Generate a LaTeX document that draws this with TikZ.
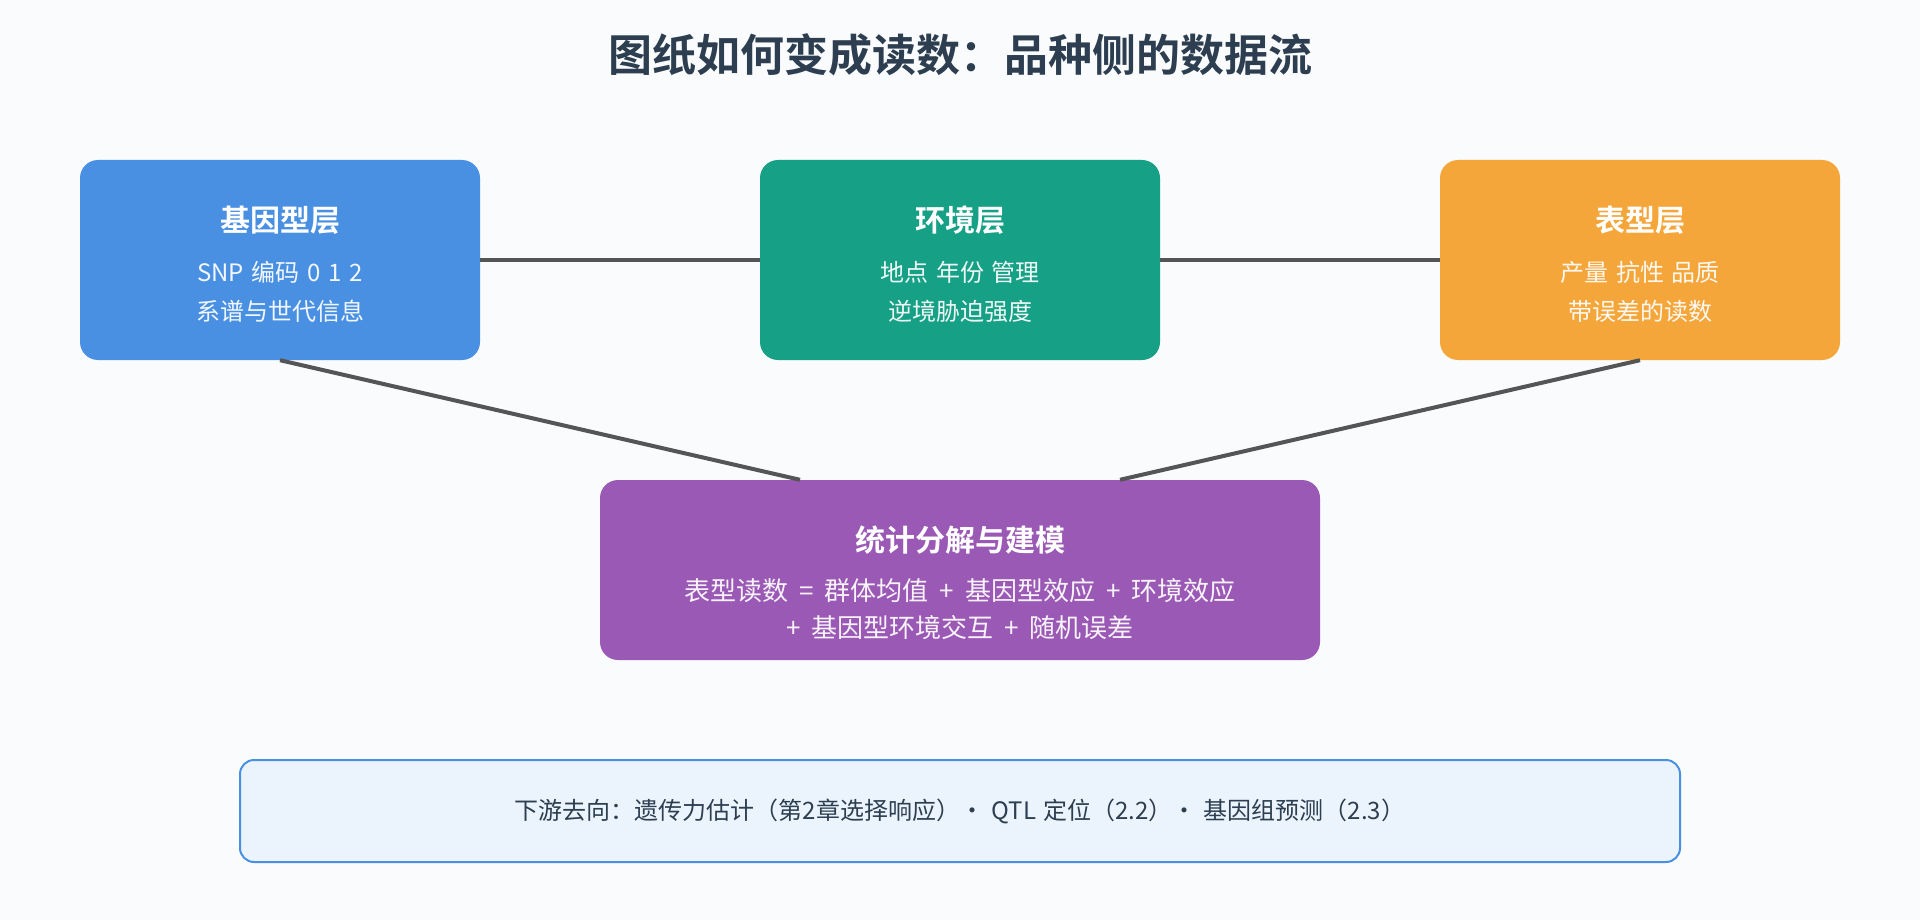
\documentclass[tikz,border=0pt]{standalone}
\usepackage{fontspec}
\setmainfont{Noto Sans CJK SC}[BoldFont={Noto Sans CJK SC Bold}]
\usepackage{tikz}
\usetikzlibrary{positioning}

\definecolor{bgpage}{HTML}{FAFBFD}
\definecolor{geno}{HTML}{4A90E2}
\definecolor{envi}{HTML}{16A085}
\definecolor{pheno}{HTML}{F4A63A}
\definecolor{model}{HTML}{9B59B6}
\definecolor{linkgray}{HTML}{555555}
\definecolor{ink}{HTML}{2C3E50}
\definecolor{notefill}{HTML}{EBF4FC}

\newcommand\subfont{\fontsize{24}{30}\selectfont\spaceskip=0.32em\relax}
\newcommand\modelfont{\fontsize{26}{32}\selectfont\spaceskip=0.42em\relax}
\newcommand\notefont{\fontsize{24}{30}\selectfont\spaceskip=0.3em\relax}

\tikzset{
  layer/.style={rounded corners=18pt, minimum width=400pt, minimum height=200pt, inner sep=0pt},
  head/.style={text=white, font=\bfseries\fontsize{30}{36}\selectfont},
  sub/.style={text=white, text opacity=0.93, font=\subfont},
  link/.style={draw=linkgray, line width=4pt}
}

\begin{document}
\begin{tikzpicture}[x=1pt, y=-1pt]
          \fill[bgpage] (0,0) rectangle (1920,920);
          \useasboundingbox (0,0) rectangle (1920,920);

          % Titulo
          \node[text=ink, font=\bfseries\fontsize{44}{52}\selectfont] (title) at (960,55) {图纸如何变成读数：品种侧的数据流};

          % Capas
          \node[layer, fill=geno] (gen) at (280,260) {};
          \node[layer, fill=envi] (env) at (960,260) {};
          \node[layer, fill=pheno] (phe) at (1640,260) {};
          \node[layer, fill=model, minimum width=720pt, minimum height=180pt] (stat) at (960,570) {};

          % Textos
          \node[head] (genH) at (280,220) {基因型层};
          \node[sub] (genA) at (280,272) {SNP 编码 0 1 2};
          \node[sub] (genB) at (280,311) {系谱与世代信息};
          \node[head] (envH) at (960,220) {环境层};
          \node[sub] (envA) at (960,272) {地点 年份 管理};
          \node[sub] (envB) at (960,311) {逆境胁迫强度};
          \node[head] (pheH) at (1640,220) {表型层};
          \node[sub] (pheA) at (1640,272) {产量 抗性 品质};
          \node[sub] (pheB) at (1640,311) {带误差的读数};
          \node[head] (statH) at (960,540) {统计分解与建模};
          \node[sub, font=\modelfont] (statA) at (960,591) {表型读数 = 群体均值 + 基因型效应 + 环境效应};
          \node[sub, font=\modelfont] (statB) at (960,628) {+ 基因型环境交互 + 随机误差};

          % Nota
          \node[draw=geno, line width=2pt, fill=notefill, rounded corners=14pt,
                minimum width=1440pt, minimum height=102pt,
                text=ink, font=\notefont] (note) at (960,811)
                {下游去向：遗传力估计（第2章选择响应）· QTL 定位（2.2）· 基因组预测（2.3）};

          % Conexiones
          \draw[link] (gen.east) -- (env.west);
          \draw[link] (env.east) -- (phe.west);
          \draw[link] (gen.south) -- ([xshift=-160pt]stat.north);
          \draw[link] (phe.south) -- ([xshift=160pt]stat.north);

        \end{tikzpicture}
\end{document}
